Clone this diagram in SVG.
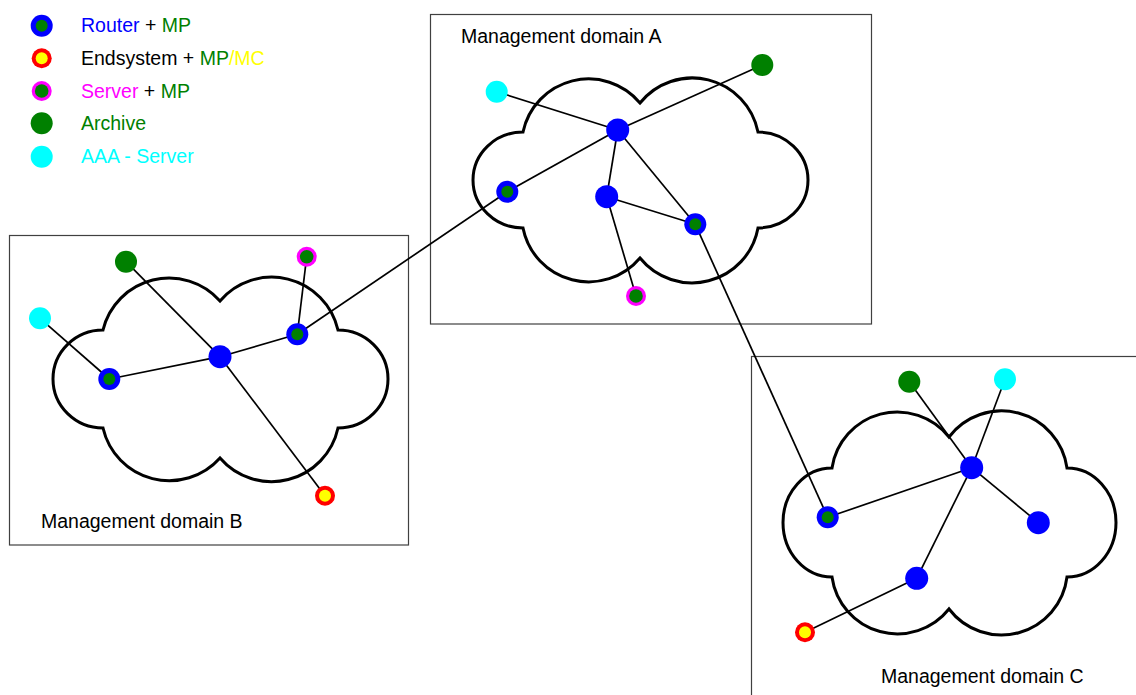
<svg xmlns="http://www.w3.org/2000/svg" xmlns:xlink="http://www.w3.org/1999/xlink" width="1136" height="695" viewBox="0 0 1136 695">
<style>
.box{fill:none;stroke:#404040;stroke-width:1.2}
.cloud{fill:none;stroke:#000;stroke-width:3}
.link{stroke:#000;stroke-width:1.7;fill:none}
text{font-family:"Liberation Sans",Arial,Helvetica,sans-serif;font-size:19.5px;fill:#000}
.blue{fill:#0000ff}.green{fill:#008000}.yellow{fill:#ffff00}.mag{fill:#ff00ff}.cyan{fill:#00ffff}
</style>
<defs>
<g id="routerMP"><circle r="11" fill="#0000ff"/><circle r="6" fill="#008000"/></g>
<g id="router"><circle r="11.5" fill="#0000ff"/></g>
<g id="endsys"><circle r="10" fill="#ff0000"/><circle r="6" fill="#ffff00"/></g>
<g id="server"><circle r="10" fill="#ff00ff"/><circle r="6.8" fill="#008000"/></g>
<g id="archive"><circle r="11" fill="#008000"/></g>
<g id="aaa"><circle r="11" fill="#00ffff"/></g>
</defs>
<rect width="1136" height="695" fill="#fff"/>

<g id="domainA">
<rect class="box" x="430.5" y="14.5" width="441" height="309.5"/>
<path class="cloud" d="M640,103 A67,67 0 0 0 523,132 A50,48 0 0 0 523,228 A67,67 0 0 0 640,258 A67,67 0 0 0 758,228 A50,48 0 0 0 758,132 A67,67 0 0 0 640,103 Z"/>
<text x="461" y="43">Management domain A</text>
</g>
<g id="domainB">
<rect class="box" x="9.5" y="235.5" width="399" height="309.5"/>
<path class="cloud" d="M220,301 A68,68 0 0 0 103,330 A50,49 0 0 0 103,428 A68,68 0 0 0 220,458 A68,68 0 0 0 338,428 A50,49 0 0 0 338,330 A68,68 0 0 0 220,301 Z"/>
<text x="41" y="528">Management domain B</text>
</g>
<g id="domainC">
<rect class="box" x="751.5" y="356.5" width="400" height="400"/>
<path class="cloud" d="M949,437 A66,66 0 0 0 832,468 A49,54.5 0 0 0 832,577 A66,66 0 0 0 949,609 A66,66 0 0 0 1067,577 A49,54.5 0 0 0 1067,468 A66,66 0 0 0 949,437 Z"/>
<text x="881" y="683">Management domain C</text>
</g>

<g id="connectors">
<line class="link" x1="496.7" y1="91.7" x2="617.7" y2="130"/>
<line class="link" x1="762.3" y1="65" x2="617.7" y2="130"/>
<line class="link" x1="617.7" y1="130" x2="507.3" y2="191.7"/>
<line class="link" x1="617.7" y1="130" x2="606.7" y2="196.7"/>
<line class="link" x1="617.7" y1="130" x2="695.3" y2="224.3"/>
<line class="link" x1="606.7" y1="196.7" x2="695.3" y2="224.3"/>
<line class="link" x1="606.7" y1="196.7" x2="636" y2="296"/>
<line class="link" x1="507.3" y1="191.7" x2="297.3" y2="334.3"/>
<line class="link" x1="695.3" y1="224.3" x2="827.7" y2="517.3"/>
<line class="link" x1="40" y1="318.3" x2="109.3" y2="379"/>
<line class="link" x1="109.3" y1="379" x2="220" y2="356.7"/>
<line class="link" x1="220" y1="356.7" x2="297.3" y2="334.3"/>
<line class="link" x1="126" y1="261.7" x2="220" y2="356.7"/>
<line class="link" x1="220" y1="356.7" x2="325" y2="495.7"/>
<line class="link" x1="306.7" y1="256.7" x2="297.3" y2="334.3"/>
<line class="link" x1="909.3" y1="381.7" x2="971.7" y2="467.7"/>
<line class="link" x1="1005" y1="379.3" x2="971.7" y2="467.7"/>
<line class="link" x1="827.7" y1="517.3" x2="971.7" y2="467.7"/>
<line class="link" x1="971.7" y1="467.7" x2="1038.3" y2="522.7"/>
<line class="link" x1="971.7" y1="467.7" x2="916.7" y2="578.3"/>
<line class="link" x1="916.7" y1="578.3" x2="805" y2="632.3"/>
</g>

<g id="nodesA">
<use id="A-aaa" href="#aaa" x="496.7" y="91.7"/>
<use id="A-archive" href="#archive" x="762.3" y="65"/>
<use id="A-router1" href="#router" x="617.7" y="130"/>
<use id="A-routerMP1" href="#routerMP" x="507.3" y="191.7"/>
<use id="A-router2" href="#router" x="606.7" y="196.7"/>
<use id="A-routerMP2" href="#routerMP" x="695.3" y="224.3"/>
<use id="A-server" href="#server" x="636" y="296"/>
</g>
<g id="nodesB">
<use id="B-archive" href="#archive" x="126" y="261.7"/>
<use id="B-server" href="#server" x="306.7" y="256.7"/>
<use id="B-aaa" href="#aaa" x="40" y="318.3"/>
<use id="B-routerMP1" href="#routerMP" x="109.3" y="379"/>
<use id="B-router" href="#router" x="220" y="356.7"/>
<use id="B-routerMP2" href="#routerMP" x="297.3" y="334.3"/>
<use id="B-endsys" href="#endsys" x="325" y="495.7"/>
</g>
<g id="nodesC">
<use id="C-archive" href="#archive" x="909.3" y="381.7"/>
<use id="C-aaa" href="#aaa" x="1005" y="379.3"/>
<use id="C-router1" href="#router" x="971.7" y="467.7"/>
<use id="C-routerMP" href="#routerMP" x="827.7" y="517.3"/>
<use id="C-router2" href="#router" x="1038.3" y="522.7"/>
<use id="C-router3" href="#router" x="916.7" y="578.3"/>
<use id="C-endsys" href="#endsys" x="805" y="632.3"/>
</g>

<g id="legend">
<use href="#routerMP" x="41.7" y="25.7"/>
<use href="#endsys" x="41.7" y="58.3"/>
<use href="#server" x="41.7" y="91"/>
<use href="#archive" x="41.7" y="123.3"/>
<use href="#aaa" x="41.7" y="156.7"/>
<text x="81" y="32"><tspan class="blue">Router</tspan> + <tspan class="green">MP</tspan></text>
<text x="81" y="65">Endsystem + <tspan class="green">MP</tspan><tspan class="yellow">/MC</tspan></text>
<text x="81" y="97.5"><tspan class="mag">Server</tspan> + <tspan class="green">MP</tspan></text>
<text x="81" y="130" class="green">Archive</text>
<text x="81" y="163" class="cyan">AAA - Server</text>
</g>
</svg>
